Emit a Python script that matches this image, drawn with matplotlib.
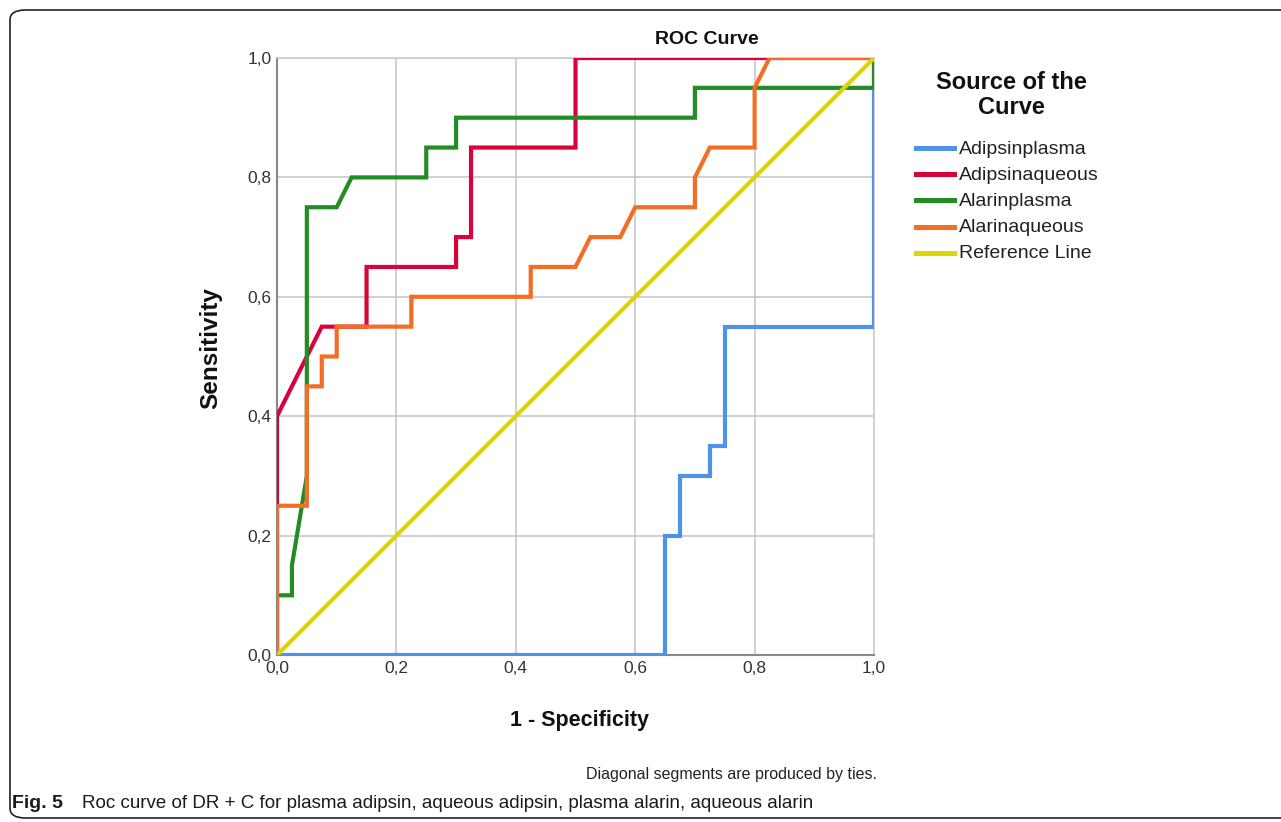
import matplotlib
matplotlib.use("Agg")
import matplotlib.pyplot as plt
from matplotlib.lines import Line2D
from matplotlib.patches import FancyBboxPatch

plt.rcParams["font.family"] = ["Liberation Sans", "DejaVu Sans"]

# ROC curves (1 - specificity, sensitivity)
adipsin_plasma_x = [0, 0.65, 0.65, 0.675, 0.675, 0.725, 0.725, 0.75, 0.75, 1.0, 1.0]
adipsin_plasma_y = [0, 0, 0.2, 0.2, 0.3, 0.3, 0.35, 0.35, 0.55, 0.55, 1.0]

adipsin_aqueous_x = [0, 0, 0.075, 0.15, 0.15, 0.3, 0.3, 0.325, 0.325, 0.5, 0.5, 1.0]
adipsin_aqueous_y = [0, 0.4, 0.55, 0.55, 0.65, 0.65, 0.7, 0.7, 0.85, 0.85, 1.0, 1.0]

alarin_plasma_x = [0, 0, 0.025, 0.025, 0.05, 0.05, 0.1, 0.125, 0.25, 0.25,
                   0.3, 0.3, 0.7, 0.7, 1.0, 1.0]
alarin_plasma_y = [0, 0.1, 0.1, 0.15, 0.3, 0.75, 0.75, 0.8, 0.8, 0.85,
                   0.85, 0.9, 0.9, 0.95, 0.95, 1.0]

alarin_aqueous_x = [0, 0, 0.05, 0.05, 0.075, 0.075, 0.1, 0.1, 0.225, 0.225,
                    0.425, 0.425, 0.5, 0.525, 0.575, 0.6, 0.7, 0.7, 0.725,
                    0.8, 0.8, 0.825, 1.0]
alarin_aqueous_y = [0, 0.25, 0.25, 0.45, 0.45, 0.5, 0.5, 0.55, 0.55, 0.6,
                    0.6, 0.65, 0.65, 0.7, 0.7, 0.75, 0.75, 0.8, 0.85,
                    0.85, 0.95, 1.0, 1.0]

reference_x = [0, 1]
reference_y = [0, 1]

labels = ["Adipsinplasma", "Adipsinaqueous", "Alarinplasma", "Alarinaqueous",
          "Reference Line"]
colors = ["#4f93e6", "#d9033b", "#238c23", "#f36d25", "#ddd400"]
series = [(adipsin_plasma_x, adipsin_plasma_y),
          (adipsin_aqueous_x, adipsin_aqueous_y),
          (alarin_plasma_x, alarin_plasma_y),
          (alarin_aqueous_x, alarin_aqueous_y),
          (reference_x, reference_y)]
ticks = [0.0, 0.2, 0.4, 0.6, 0.8, 1.0]
tick_labels = ["0,0", "0,2", "0,4", "0,6", "0,8", "1,0"]

W, H = 1281, 822


def fx(x):
    return x / W


def fy(y):
    return 1 - y / H


fig = plt.figure(figsize=(W / 100, H / 100), dpi=100)

# rounded frame round the figure panel
box = FancyBboxPatch((fx(10), fy(818)), fx(1300) - fx(10), fy(10) - fy(818),
                     boxstyle="round,pad=0,rounding_size=0.012",
                     transform=fig.transFigure, fill=False,
                     edgecolor="#222222", linewidth=1.2)
fig.add_artist(box)

ax = fig.add_axes([fx(277), fy(655), 597 / W, 597 / H])
for (xs, ys), c in zip(series, colors):
    ax.plot(xs, ys, color=c, lw=3.0, solid_joinstyle="miter", zorder=3)

ax.set_xlim(0, 1)
ax.set_ylim(0, 1)
ax.set_xticks(ticks)
ax.set_yticks(ticks)
ax.set_xticklabels(tick_labels, fontsize=12.5, color="#333333")
ax.set_yticklabels(tick_labels, fontsize=12.5, color="#333333")
ax.tick_params(length=0, pad=4)
ax.grid(True, color="#c8c8c8", lw=1.2)
for side in ["top", "right"]:
    ax.spines[side].set_color("#cccccc")
    ax.spines[side].set_linewidth(1.2)
for side in ["left", "bottom"]:
    ax.spines[side].set_color("#888888")
    ax.spines[side].set_linewidth(1.5)

fig.text(fx(707), fy(40), "ROC Curve", ha="center", va="center",
         fontsize=14, fontweight="bold", color="#111111")
fig.text(fx(580), fy(720), "1 - Specificity", ha="center", va="center",
         fontsize=15.5, fontweight="bold", color="#111111")
fig.text(fx(211), fy(348), "Sensitivity", ha="center", va="center",
         rotation=90, fontsize=17.5, fontweight="bold", color="#111111")

# legend drawn by hand
fig.text(fx(1011), fy(95), "Source of the\nCurve", ha="center", va="center",
         fontsize=17, fontweight="bold", color="#111111",
         multialignment="center", linespacing=1.12)
for i, (lab, c) in enumerate(zip(labels, colors)):
    yy = 148 + i * 26.2
    fig.add_artist(Line2D([fx(916), fx(954)], [fy(yy), fy(yy)], color=c,
                          lw=3.6, transform=fig.transFigure))
    fig.text(fx(959), fy(yy + 1), lab, ha="left", va="center",
             fontsize=14, color="#222222")

fig.text(fx(877), fy(774), "Diagonal segments are produced by ties.",
         ha="right", va="center", fontsize=11.5, color="#222222")

fig.text(fx(12), fy(803), "Fig. 5", ha="left", va="center", fontsize=14,
         fontweight="bold", color="#1a1a1a")
fig.text(fx(82), fy(803),
         "Roc curve of DR + C for plasma adipsin, aqueous adipsin, plasma alarin, aqueous alarin",
         ha="left", va="center", fontsize=13.5, color="#1a1a1a")

fig.savefig("out.png", dpi=100)
